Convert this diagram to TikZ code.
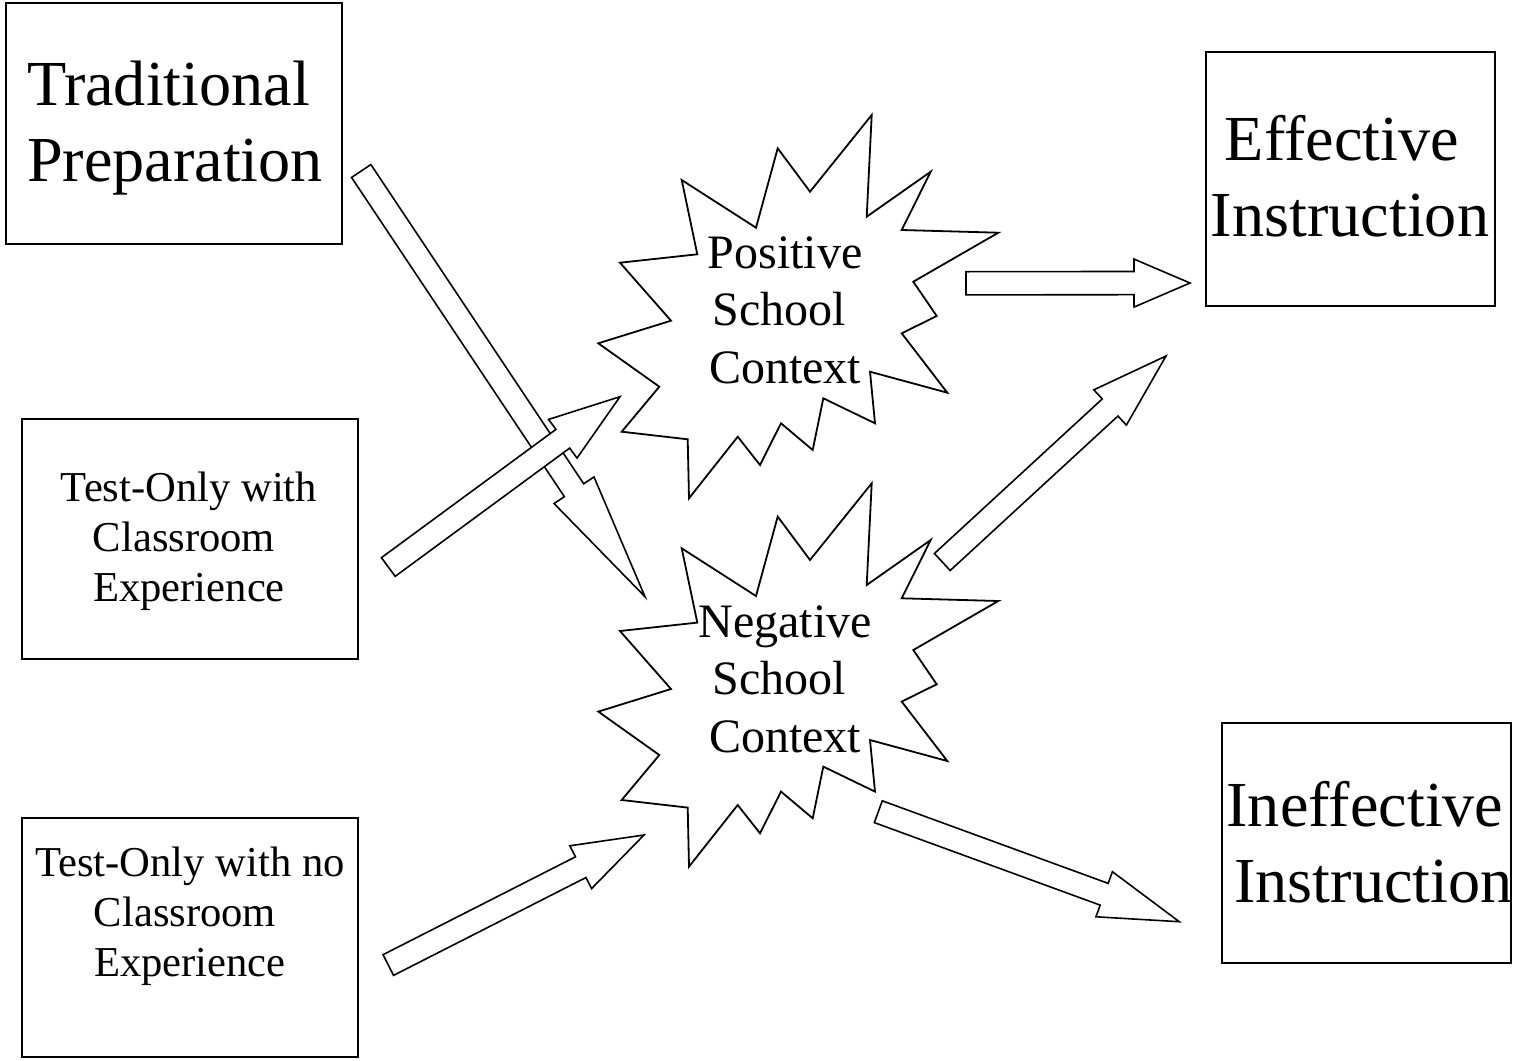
\documentclass[tikz,border=0pt]{standalone}
\usepackage{fontspec}
\setmainfont{Liberation Serif}
\usetikzlibrary{calc}
\def\sw{11.6pt}
\def\hw{24pt}
\newcommand\blockarrow[3]{%
  \coordinate (#1-m) at ($(#2)!#3!(#1)$);
  \draw[blockarr] ($(#1)!\sw!90:(#2)$) -- ($(#1-m)!\sw!-90:(#1)$) -- ($(#1-m)!\hw!-90:(#1)$) -- (#2)
     -- ($(#1-m)!\hw!90:(#1)$) -- ($(#1-m)!\sw!90:(#1)$) -- ($(#1)!\sw!-90:(#2)$) -- cycle;}
\newcommand\gap[1]{\hbox to #1{}}
\tikzset{
  boxnode/.style={draw=black, line width=1.8pt, fill=white, inner sep=0pt},
  bigtext/.style={inner sep=0pt, font=\fontsize{64.2}{76.5}\selectfont},
  startext/.style={inner sep=0pt, align=center, font=\fontsize{48}{57.5}\selectfont},
  smalltext/.style={inner sep=0pt, align=center, font=\fontsize{42.6}{49.8}\selectfont},
  blockarr/.style={draw=black, line width=1.6pt, fill=white, line join=miter},
  burstline/.style={draw=black, line width=1.8pt, fill=white, line join=miter},
  burst/.pic={\path[burstline] (87.7,-197) -- (82.7,-95.3) -- (146.7,-140.3) -- (117.7,-82) -- (214.3,-79.3)
     -- (129.3,-30.3) -- (152.7,4) -- (117.7,21.3) -- (163.3,80.7) -- (86,59.7) -- (91,111.3)
     -- (39.3,86.3) -- (28.7,138) -- (-3,111.3) -- (-24,153) -- (-46.3,124.7) -- (-95,186.3)
     -- (-96.3,127.3) -- (-162.3,119.7) -- (-124.7,74.7) -- (-185.7,31.3) -- (-113,8.7)
     -- (-164,-49.3) -- (-86.7,-57.7) -- (-102.3,-132) -- (-28,-84.3) -- (-6.3,-163.7)
     -- (26,-120.3) -- cycle;}
}
\begin{document}
\begin{tikzpicture}[x=1pt,y=-1pt]
\fill[white] (0,0) rectangle (1514,1060);
\useasboundingbox (0,0) rectangle (1514,1060);

% school-context bursts
\coordinate (psc) at (784,312);
\coordinate (nsc) at (784,680.3);
\pic (posburst) at (psc) {burst};
\pic (negburst) at (nsc) {burst};

% boxes
\node[boxnode, minimum width=336pt, minimum height=241pt] (trad) at (174,123.5) {};
\node[boxnode, minimum width=336pt, minimum height=240pt] (tc) at (190,539) {};
\node[boxnode, minimum width=336pt, minimum height=239pt] (tn) at (190,937.5) {};
\node[boxnode, minimum width=289pt, minimum height=254pt] (eff) at (1350.5,179) {};
\node[boxnode, minimum width=289pt, minimum height=240pt] (ineff) at (1366.5,843) {};

% arrow end points
\coordinate (aT) at (361.2,171);   \coordinate (aH) at (645,596.7);
\coordinate (bT) at (388.3,567);   \coordinate (bH) at (620,396.7);
\coordinate (cT) at (388.3,965);   \coordinate (cH) at (644,835);
\coordinate (dT) at (966,283.3);   \coordinate (dH) at (1190,283);
\coordinate (eT) at (942.3,562);   \coordinate (eH) at (1166,356);
\coordinate (fT) at (878.3,811.7); \coordinate (fH) at (1179.3,921.7);

\blockarrow{aT}{aH}{128pt}
\blockarrow{bT}{bH}{71pt}
\blockarrow{cT}{cH}{71pt}
\blockarrow{dT}{dH}{56pt}
\blockarrow{eT}{eH}{76pt}
\blockarrow{fT}{fH}{80pt}

% texts
\node[bigtext, align=left] (tradtxt) at (175,128.2) {Traditional\\Preparation};
\node[bigtext, align=center] (efftxt) at (1350,176.3) {Effective\gap{16pt}\\Instruction};
\node[bigtext, align=center] (inefftxt) at (1365,842.3) {Ineffective\\\gap{17pt}Instruction};
\node[smalltext] (tctxt) at (189,541) {Test-Only with\\Classroom\gap{10pt}\\Experience};
\node[smalltext] (tntxt) at (190,916) {Test-Only with no\\Classroom\gap{10pt}\\Experience};
\node[startext] (postxt) at (785,310.3) {Positive\\School\gap{12pt}\\Context};
\node[startext] (negtxt) at (785,679) {Negative\\School\gap{12pt}\\Context};
\end{tikzpicture}
\end{document}
